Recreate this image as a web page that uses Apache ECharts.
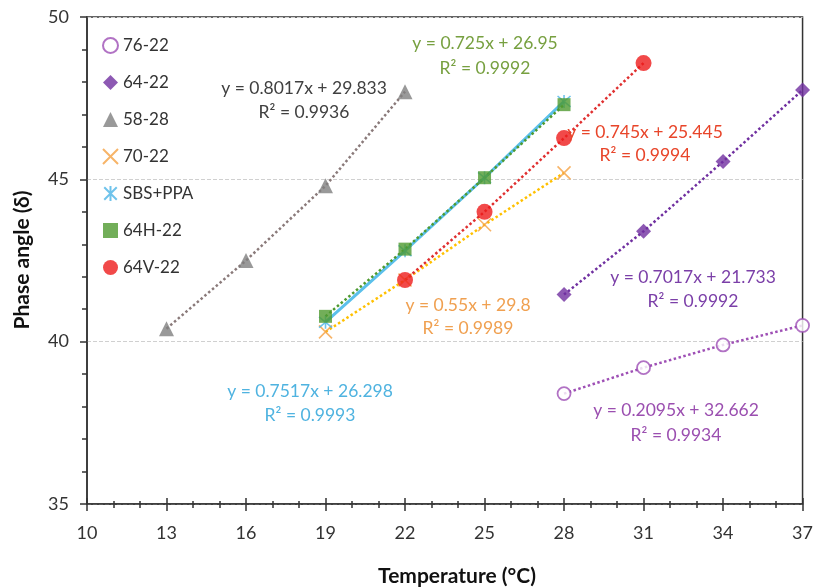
<!DOCTYPE html>
<html><head><meta charset="utf-8">
<script src="https://cdn.jsdelivr.net/npm/echarts@6/dist/echarts.min.js"></script>
<style>html,body{margin:0;padding:0;background:#fff}#c{width:816px;height:588px}</style>
</head><body><div id="c"></div>
<script>
// ---- data ----
const xTicks = [10, 13, 16, 19, 22, 25, 28, 31, 34, 37];
const seriesNames = ['76-22', '64-22', '58-28', '70-22', 'SBS+PPA', '64H-22', '64V-22'];
const x7622 = [28, 31, 34, 37];
const y7622 = [38.4, 39.2, 39.9, 40.5];
const x6422 = [28, 31, 34, 37];
const y6422 = [41.45, 43.4, 45.55, 47.75];
const x5828 = [13, 16, 19, 22];
const y5828 = [40.4, 42.5, 44.8, 47.7];
const x7022 = [19, 22, 25, 28];
const y7022 = [40.3, 41.9, 43.6, 45.2];
const xSBS = [19, 22, 25, 28];
const ySBS = [40.6, 42.8, 45.05, 47.4];
const x64H = [19, 22, 25, 28];
const y64H = [40.78, 42.85, 45.05, 47.3];
const x64V = [22, 25, 28, 31];
const y64V = [41.9, 44.0, 46.27, 48.58];
const fitLabels = [
  ['y = 0.2095x + 32.662', 'R² = 0.9934'],
  ['y = 0.7017x + 21.733', 'R² = 0.9992'],
  ['y = 0.8017x + 29.833', 'R² = 0.9936'],
  ['y = 0.55x + 29.8', 'R² = 0.9989'],
  ['y = 0.7517x + 26.298', 'R² = 0.9993'],
  ['y = 0.725x + 26.95', 'R² = 0.9992'],
  ['y = 0.745x + 25.445', 'R² = 0.9994']
];
// ---- styles ----
const FONT = 'Lato';
const zip = (xs, ys) => xs.map((x, i) => [x, ys[i]]);
const markerColors = ['#9e4fb5', '#7030a0', '#7f7f7f', '#f5a142', '#4bb4e6', '#4f9a2f', '#ee1c1c'];
const lineColors = ['#9e4fb5', '#7030a0', '#8a7a7a', '#ffc000', '#5bc0eb', '#4f9a2f', '#e03030'];
const labelColors = ['#9b4fb0', '#7b3fa8', '#404040', '#f0a050', '#4fb3e0', '#77a040', '#e8452a'];
const labelPos = [[676, 410, 435], [693, 277, 301], [304, 88, 112], [468, 305, 328], [310, 391, 415], [485, 43, 68], [645, 132, 155]];
const data = [zip(x7622, y7622), zip(x6422, y6422), zip(x5828, y5828), zip(x7022, y7022), zip(xSBS, ySBS), zip(x64H, y64H), zip(x64V, y64V)];
const symbols = ['circle', 'diamond', 'triangle', 'path://M0,0L10,10M10,0L0,10', 'path://M0,0L10,10M10,0L0,10M5,-1L5,11', 'rect', 'circle'];
const symSizes = [13, 15, 15, 13, 13, 13, 16];
const itemStyles = [
  {color: '#fff', borderColor: markerColors[0], borderWidth: 1.8},
  {color: markerColors[1]},
  {color: markerColors[2]},
  {color: 'rgba(0,0,0,0)', borderColor: markerColors[3], borderWidth: 1.6},
  {color: 'rgba(0,0,0,0)', borderColor: markerColors[4], borderWidth: 1.6},
  {color: markerColors[5]},
  {color: markerColors[6]}
];
const series = [];
seriesNames.forEach((n, i) => {
  series.push({
    name: n + ' trend', type: 'line', data: data[i], symbol: 'none', silent: true,
    lineStyle: i === 4 ? {color: lineColors[i], width: 3, type: 'solid'} : {color: lineColors[i], width: 2.5, type: 'dotted'},
    z: i === 4 ? 2 : 3
  });
});
seriesNames.forEach((n, i) => {
  series.push({
    name: n, type: 'scatter', data: data[i], symbol: symbols[i], symbolSize: symSizes[i],
    itemStyle: itemStyles[i], z: 5
  });
});
const graphics = [];
fitLabels.forEach((lb, i) => {
  const p = labelPos[i];
  graphics.push({type: 'text', x: p[0], y: p[1], style: {text: lb[0], fill: labelColors[i], font: '17.5px ' + FONT, textAlign: 'center', textVerticalAlign: 'middle'}, z: 10});
  graphics.push({type: 'text', x: p[0], y: p[2], style: {text: lb[1], fill: labelColors[i], font: '17.5px ' + FONT, textAlign: 'center', textVerticalAlign: 'middle'}, z: 10});
});
graphics.push({type: 'text', x: 457, y: 576, style: {text: 'Temperature (°C)', fill: '#111', font: 'bold 21px ' + FONT, textAlign: 'center', textVerticalAlign: 'middle'}});
graphics.push({type: 'text', x: 22, y: 260, rotation: Math.PI / 2, style: {text: 'Phase angle (δ)', fill: '#111', font: 'bold 21px ' + FONT, textAlign: 'center', textVerticalAlign: 'middle'}});

const axisBase = {type: 'value', min: 10, max: 37, interval: 3};
const chart = echarts.init(document.getElementById('c'), null, {renderer: 'canvas'});
chart.setOption({
  animation: false,
  backgroundColor: '#fff',
  grid: {left: 87, right: 9, top: 17, bottom: 84, show: true, borderColor: '#333', borderWidth: 1.5, backgroundColor: 'transparent'},
  legend: {
    data: seriesNames, orient: 'vertical', left: 97, top: 32, itemGap: 20, itemWidth: 15, itemHeight: 15,
    textStyle: {fontFamily: FONT, fontSize: 17, color: '#333'}, selectedMode: false
  },
  xAxis: [
    Object.assign({}, axisBase, {
      axisLine: {lineStyle: {color: '#333', width: 1.5}},
      axisTick: {show: true, inside: false, length: 7, lineStyle: {color: '#333', width: 1.5}},
      minorTick: {show: true, splitNumber: 3, length: 4, lineStyle: {color: '#333', width: 1.5}},
      axisLabel: {fontFamily: FONT, fontSize: 18, color: '#333', margin: 20, customValues: xTicks},
      splitLine: {show: false}
    }),
    Object.assign({}, axisBase, {
      position: 'bottom', offset: 0,
      axisLine: {show: false},
      axisTick: {show: true, inside: true, length: 6, lineStyle: {color: '#333', width: 1.5}},
      minorTick: {show: true, splitNumber: 3, length: 3, lineStyle: {color: '#333', width: 1.5}},
      axisLabel: {show: false},
      splitLine: {show: false}
    })
  ],
  yAxis: {
    type: 'value', min: 35, max: 50, interval: 5,
    axisLine: {show: true, lineStyle: {color: '#333', width: 1.5}},
    axisTick: {show: true, inside: false, length: 7, lineStyle: {color: '#333', width: 1.5}},
    minorTick: {show: true, splitNumber: 5, length: 5, lineStyle: {color: '#333', width: 1.5}},
    axisLabel: {fontFamily: FONT, fontSize: 18, color: '#333', margin: 18},
    splitLine: {show: true, lineStyle: {color: '#d0d0d0', type: 'dashed', width: 1}}
  },
  series: series,
  graphic: graphics
});
</script>
</body></html>
